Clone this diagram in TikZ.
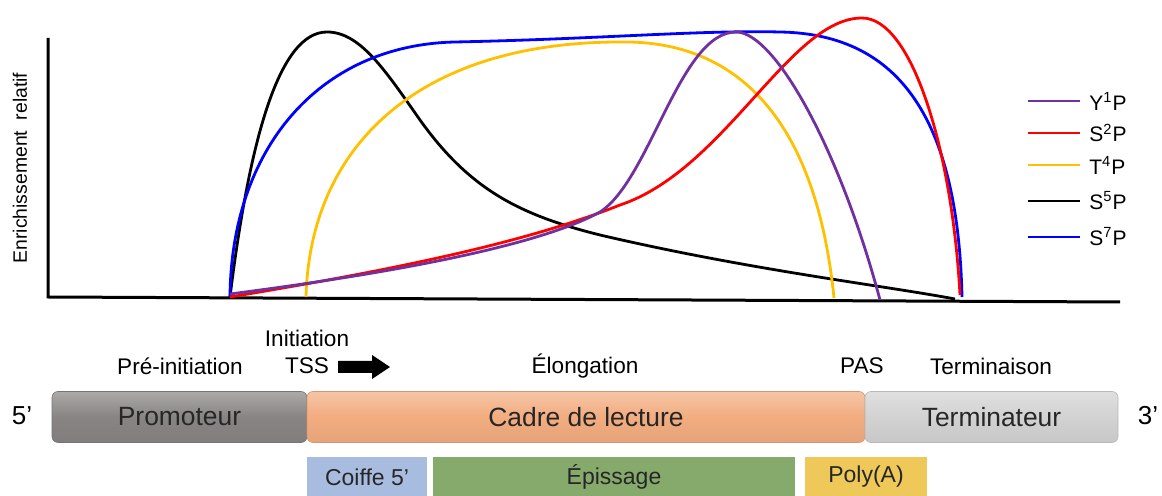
\documentclass[tikz,border=0pt]{standalone}
\usepackage{fontspec}
\setmainfont{Liberation Sans}

\definecolor{colY}{RGB}{112,48,160}
\definecolor{colS2}{RGB}{255,0,0}
\definecolor{colT}{RGB}{255,192,0}
\definecolor{colS5}{RGB}{0,0,0}
\definecolor{colS7}{RGB}{0,0,255}
\definecolor{promo}{RGB}{136,132,132}
\definecolor{cadre}{RGB}{242,172,128}
\definecolor{termi}{RGB}{210,210,210}
\definecolor{coiffe}{RGB}{168,188,224}
\definecolor{episs}{RGB}{134,170,108}
\definecolor{polya}{RGB}{238,200,88}

\tikzset{
  curve/.style={line width=1.4pt},
  legline/.style={line width=1.4pt},
  phase/.style={font=\fontsize{11.3}{13}\selectfont},
  genebox/.style={rounded corners=3pt, draw=#1!88!black, line width=0.3pt,
    top color=#1!70!white, bottom color=#1!95!black, middle color=#1,
    minimum height=25.5pt, inner sep=0pt, font=\fontsize{13.2}{15}\selectfont, text=black!85},
  markbox/.style={minimum height=20pt, inner sep=0pt, font=\fontsize{11.5}{13}\selectfont, text=black!85}
}

\begin{document}
\begin{tikzpicture}[x=0.5pt, y=-0.5pt]
  \useasboundingbox (0,0) rectangle (1162,496);

  % axes
  \coordinate (O) at (48,297);
  \coordinate (T) at (48,38);
  \coordinate (E) at (1120,302);
  \draw[line width=1.5pt] (T) -- (O) -- (E);
  \node[rotate=90, font=\fontsize{9.7}{12}\selectfont] (ylab) at (20,168) {Enrichissement\ \ relatif};

  % curves
  \draw[curve, colS5] (230,297) .. controls (250,135) and (280,32) .. (327,32)
    .. controls (360,32) and (385,70) .. (420,120)
    .. controls (470,190) and (520,215) .. (600,235)
    .. controls (750,270) and (880,285) .. (955,299);
  \draw[curve, colS7] (230,297) .. controls (231,150) and (318,45) .. (455,42)
    .. controls (600,39) and (700,30) .. (780,32)
    .. controls (900,34) and (958,120) .. (962,297);
  \draw[curve, colT] (306,297) .. controls (310,145) and (420,42) .. (620,42)
    .. controls (730,40) and (815,110) .. (834,298);
  \draw[curve, colS2] (230,297) .. controls (380,272) and (520,245) .. (620,205)
    .. controls (725,170) and (790,18) .. (862,18)
    .. controls (912,18) and (952,150) .. (960,295);
  \draw[curve, colY] (230,294) .. controls (400,272) and (540,245) .. (600,212)
    .. controls (650,180) and (680,32) .. (736,32)
    .. controls (775,32) and (840,150) .. (880,300);

  % legend
  \foreach \yy/\cc/\lab in {101/colY/{Y\textsuperscript{1}P}, 133/colS2/{S\textsuperscript{2}P}, 165/colT/{T\textsuperscript{4}P}, 201/colS5/{S\textsuperscript{5}P}, 237/colS7/{S\textsuperscript{7}P}}{
    \draw[legline, \cc] (1028,\yy) -- (1080,\yy);
    \node[anchor=west, inner sep=0pt, font=\fontsize{10.5}{12}\selectfont] at (1089,\yy) {\lab};
  }

  % phases
  \node[phase] (init) at (307,338) {Initiation};
  \node[phase] (preinit) at (180,366) {Pré-initiation};
  \node[phase] (tss) at (307,366) {TSS};
  \node[phase] (elong) at (585,366) {Élongation};
  \node[phase] (pas) at (862,366) {PAS};
  \node[phase] (term) at (991,366) {Terminaison};
  \fill (338,361) -- (372,361) -- (372,355) -- (390,367) -- (372,379) -- (372,373) -- (338,373) -- cycle;

  % gene
  \node (cinq) at (22,416) {\fontsize{13}{15}\selectfont 5’};
  \node (trois) at (1148,416) {\fontsize{13}{15}\selectfont 3’};
  \node[genebox=promo, minimum width=127.5pt] (promoteur) at (179.5,417) {Promoteur};
  \node[genebox=cadre, minimum width=279pt] (cadre) at (586,417) {Cadre de lecture};
  \node[genebox=termi, minimum width=126.5pt] (termin) at (991.5,417) {Terminateur};

  % co-transcriptional events
  \node[markbox, fill=coiffe, minimum width=60pt] (coiffe) at (367,477) {Coiffe 5’};
  \node[markbox, fill=episs, minimum width=181pt] (episs) at (614,477) {Épissage};
  \node[markbox, fill=polya, minimum width=61pt] (polya) at (866,477) {Poly(A)};
\end{tikzpicture}
\end{document}
